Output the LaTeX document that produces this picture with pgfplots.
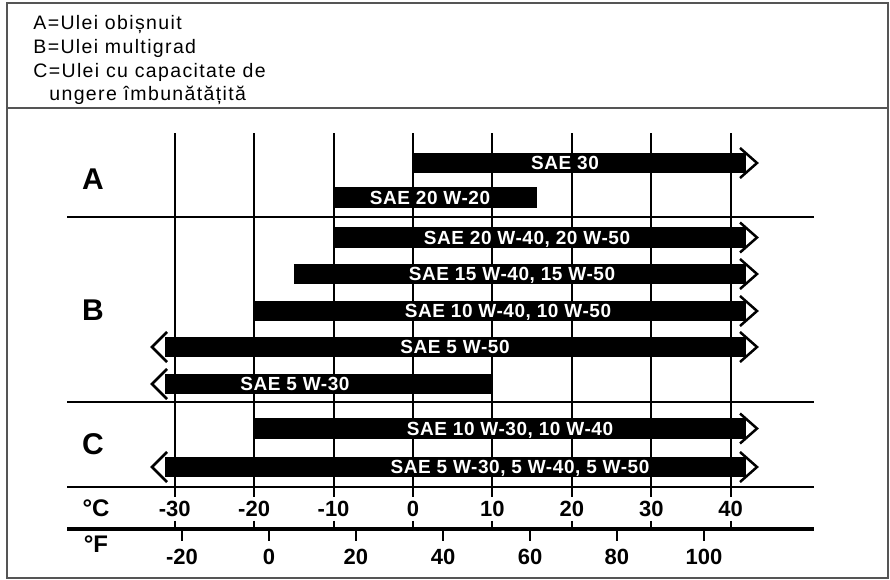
\documentclass[border=0pt]{standalone}
\usepackage{pgfplots}
\pgfplotsset{compat=1.18}
\usepackage{fontspec}
\setmainfont{Liberation Sans}
\newfontfamily\legfont{Liberation Sans}[LetterSpace=7]
\newfontfamily\barfont{Liberation Sans}[LetterSpace=3]
\definecolor{framegray}{HTML}{555555}
\begin{document}
\begin{tikzpicture}
\begin{axis}[width=445pt,height=290pt,scale only axis,
  xmin=-51.996,xmax=60.053,ymin=0,ymax=580,y dir=reverse,
  hide axis,clip=false]
% bounding box
\path (axis cs:-51.996,0) rectangle (axis cs:60.053,580);
% outer frame and divider
\draw[line width=1pt,framegray] (axis cs:-51.11,3) rectangle (axis cs:59.80,578);
\draw[line width=1pt,framegray] (axis cs:-51.11,107.5) -- (axis cs:59.80,107.5);
% legend text
\node[anchor=base west,inner sep=0pt,font=\legfont\fontsize{9.75pt}{11pt}\selectfont] at (axis cs:-47.84,29) {A=Ulei obișnuit};
\node[anchor=base west,inner sep=0pt,font=\legfont\fontsize{9.75pt}{11pt}\selectfont] at (axis cs:-47.84,53) {B=Ulei multigrad};
\node[anchor=base west,inner sep=0pt,font=\legfont\fontsize{9.75pt}{11pt}\selectfont] at (axis cs:-47.84,77) {C=Ulei cu capacitate de};
\node[anchor=base west,inner sep=0pt,font=\legfont\fontsize{9.75pt}{11pt}\selectfont] at (axis cs:-45.83,100) {ungere îmbunătățită};
% vertical grid lines and ticks (deg C)
\pgfplotsinvokeforeach{-30,-20,-10,0,10,20,30,40}{
  \draw[line width=1pt,black] (axis cs:#1,133) -- (axis cs:#1,497);
  \draw[line width=1pt,black] (axis cs:#1,521) -- (axis cs:#1,529);
  \node[anchor=base,inner sep=0pt,font=\bfseries\fontsize{11pt}{12pt}\selectfont] at (axis cs:#1,517) {#1};
}
% horizontal separators
\draw[line width=1pt,black] (axis cs:-43.56,217) -- (axis cs:50.48,217);
\draw[line width=1pt,black] (axis cs:-43.56,402) -- (axis cs:50.48,402);
\draw[line width=1pt,black] (axis cs:-43.56,487) -- (axis cs:50.48,487);
\draw[line width=2pt,black] (axis cs:-43.56,529) -- (axis cs:50.48,529);
% deg F ticks
\draw[line width=1pt] (axis cs:-29.08,529) -- (axis cs:-29.08,541);
\draw[line width=1pt] (axis cs:-18.13,529) -- (axis cs:-18.13,541);
\draw[line width=1pt] (axis cs:-7.18,529) -- (axis cs:-7.18,541);
\draw[line width=1pt] (axis cs:3.78,529) -- (axis cs:3.78,541);
\draw[line width=1pt] (axis cs:14.73,529) -- (axis cs:14.73,541);
\draw[line width=1pt] (axis cs:25.68,529) -- (axis cs:25.68,541);
\draw[line width=1pt] (axis cs:36.64,529) -- (axis cs:36.64,541);
\node[anchor=base,inner sep=0pt,font=\bfseries\fontsize{11pt}{12pt}\selectfont] at (axis cs:-29.08,565) {-20};
\node[anchor=base,inner sep=0pt,font=\bfseries\fontsize{11pt}{12pt}\selectfont] at (axis cs:-18.13,565) {0};
\node[anchor=base,inner sep=0pt,font=\bfseries\fontsize{11pt}{12pt}\selectfont] at (axis cs:-7.18,565) {20};
\node[anchor=base,inner sep=0pt,font=\bfseries\fontsize{11pt}{12pt}\selectfont] at (axis cs:3.78,565) {40};
\node[anchor=base,inner sep=0pt,font=\bfseries\fontsize{11pt}{12pt}\selectfont] at (axis cs:14.73,565) {60};
\node[anchor=base,inner sep=0pt,font=\bfseries\fontsize{11pt}{12pt}\selectfont] at (axis cs:25.68,565) {80};
\node[anchor=base,inner sep=0pt,font=\bfseries\fontsize{11pt}{12pt}\selectfont] at (axis cs:36.64,565) {100};
% unit labels
\node[anchor=base,inner sep=0pt,font=\bfseries\fontsize{12pt}{13pt}\selectfont] at (axis cs:-39.91,517) {°C};
\node[anchor=base,inner sep=0pt,font=\bfseries\fontsize{12pt}{13pt}\selectfont] at (axis cs:-39.91,553) {°F};
% group letters
\node[anchor=base,inner sep=0pt,font=\bfseries\fontsize{15pt}{16pt}\selectfont] at (axis cs:-40.29,189) {A};
\node[anchor=base,inner sep=0pt,font=\bfseries\fontsize{15pt}{16pt}\selectfont] at (axis cs:-40.29,320) {B};
\node[anchor=base,inner sep=0pt,font=\bfseries\fontsize{15pt}{16pt}\selectfont] at (axis cs:-40.29,455) {C};
% bars
\addplot[black,line width=10.25pt,no markers] coordinates {(0,163) (41.92,163)};
\addplot[black,line width=10.25pt,no markers] coordinates {(-10,197.5) (15.61,197.5)};
\addplot[black,line width=10.25pt,no markers] coordinates {(-10,237.5) (41.92,237.5)};
\addplot[black,line width=10.25pt,no markers] coordinates {(-15,274) (41.92,274)};
\addplot[black,line width=10.25pt,no markers] coordinates {(-20,311) (41.92,311)};
\addplot[black,line width=10.25pt,no markers] coordinates {(-31.22,347) (41.92,347)};
\addplot[black,line width=10.25pt,no markers] coordinates {(-31.22,384) (10,384)};
\addplot[black,line width=10.25pt,no markers] coordinates {(-20,428.5) (41.92,428.5)};
\addplot[black,line width=10.25pt,no markers] coordinates {(-31.22,467) (41.92,467)};
% right chevrons
\addplot[black,line width=1.25pt,no markers] coordinates {(41.17,148) (43.31,163) (41.17,178)};
\addplot[black,line width=1.25pt,no markers] coordinates {(41.17,222.5) (43.31,237.5) (41.17,252.5)};
\addplot[black,line width=1.25pt,no markers] coordinates {(41.17,259) (43.31,274) (41.17,289)};
\addplot[black,line width=1.25pt,no markers] coordinates {(41.17,296) (43.31,311) (41.17,326)};
\addplot[black,line width=1.25pt,no markers] coordinates {(41.17,332) (43.31,347) (41.17,362)};
\addplot[black,line width=1.25pt,no markers] coordinates {(41.17,413.5) (43.31,428.5) (41.17,443.5)};
\addplot[black,line width=1.25pt,no markers] coordinates {(41.17,452) (43.31,467) (41.17,482)};
% left chevrons
\addplot[black,line width=1.25pt,no markers] coordinates {(-30.97,332) (-32.86,347) (-30.97,362)};
\addplot[black,line width=1.25pt,no markers] coordinates {(-30.97,369) (-32.86,384) (-30.97,399)};
\addplot[black,line width=1.25pt,no markers] coordinates {(-30.97,452) (-32.86,467) (-30.97,482)};
% bar labels
\tikzset{barlbl/.style={anchor=base,inner sep=0pt,text=white,font=\barfont\bfseries\fontsize{9.5pt}{10pt}\selectfont}}
\node[barlbl] at (axis cs:19.14,169.8) {SAE 30};
\node[barlbl] at (axis cs:2.14,204.3) {SAE 20 W-20};
\node[barlbl] at (axis cs:14.35,244.3) {SAE 20 W-40, 20 W-50};
\node[barlbl] at (axis cs:12.46,280.8) {SAE 15 W-40, 15 W-50};
\node[barlbl] at (axis cs:11.96,317.8) {SAE 10 W-40, 10 W-50};
\node[barlbl] at (axis cs:5.29,353.8) {SAE 5 W-50};
\node[barlbl] at (axis cs:-14.86,390.8) {SAE 5 W-30};
\node[barlbl] at (axis cs:12.21,435.3) {SAE 10 W-30, 10 W-40};
\node[barlbl] at (axis cs:13.47,473.8) {SAE 5 W-30, 5 W-40, 5 W-50};
\end{axis}
\end{tikzpicture}
\end{document}
